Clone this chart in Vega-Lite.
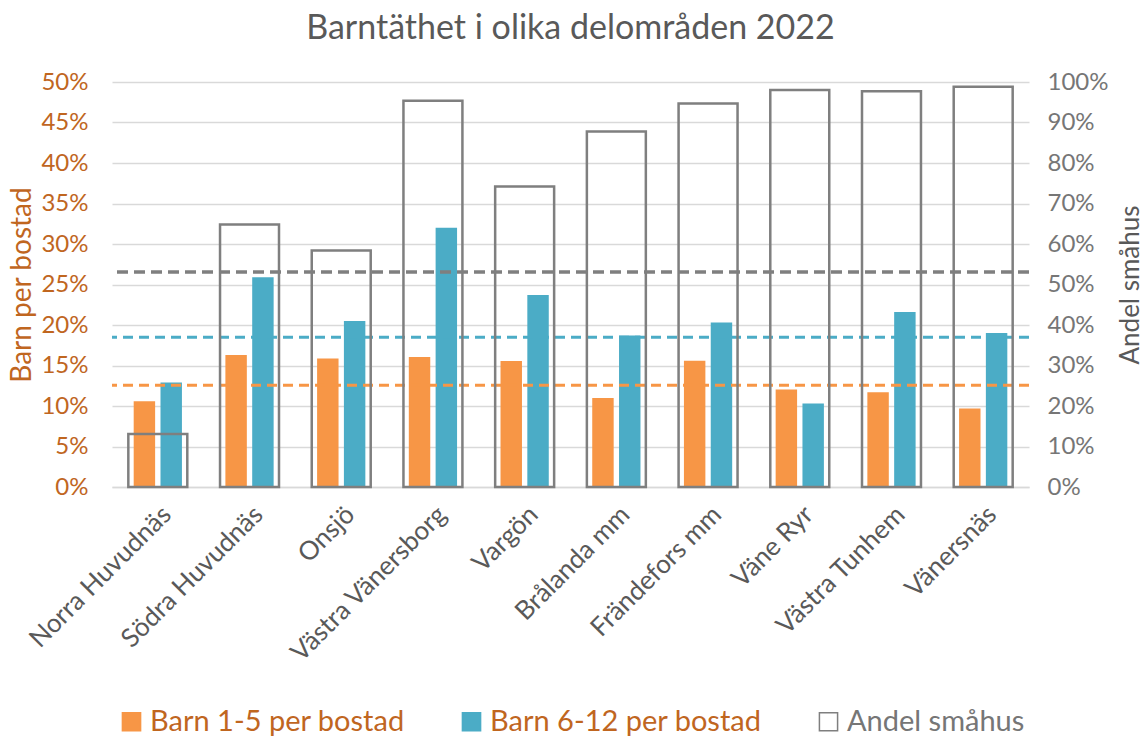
{
  "$schema": "https://vega.github.io/schema/vega-lite/v6.json",
  "width": 917,
  "height": 405,
  "autosize": {"type": "none"},
  "padding": {"left": 112, "top": 82, "right": 116, "bottom": 252},
  "background": "white",
  "title": {
    "text": "Barntäthet i olika delområden 2022",
    "font": "Lato",
    "fontSize": 34,
    "fontWeight": "normal",
    "color": "#595959",
    "anchor": "middle",
    "offset": 24
  },
  "datasets": {
    "barn": [
      {"omrade": "Norra Huvudnäs", "serie": "Barn 1-5 per bostad", "varde": 0.106},
      {"omrade": "Norra Huvudnäs", "serie": "Barn 6-12 per bostad", "varde": 0.129},
      {"omrade": "Norra Huvudnäs", "serie": "Andel småhus", "varde": 0.131},
      {"omrade": "Södra Huvudnäs", "serie": "Barn 1-5 per bostad", "varde": 0.163},
      {"omrade": "Södra Huvudnäs", "serie": "Barn 6-12 per bostad", "varde": 0.259},
      {"omrade": "Södra Huvudnäs", "serie": "Andel småhus", "varde": 0.648},
      {"omrade": "Onsjö", "serie": "Barn 1-5 per bostad", "varde": 0.1585},
      {"omrade": "Onsjö", "serie": "Barn 6-12 per bostad", "varde": 0.205},
      {"omrade": "Onsjö", "serie": "Andel småhus", "varde": 0.584},
      {"omrade": "Västra Vänersborg", "serie": "Barn 1-5 per bostad", "varde": 0.1605},
      {"omrade": "Västra Vänersborg", "serie": "Barn 6-12 per bostad", "varde": 0.320},
      {"omrade": "Västra Vänersborg", "serie": "Andel småhus", "varde": 0.954},
      {"omrade": "Vargön", "serie": "Barn 1-5 per bostad", "varde": 0.1555},
      {"omrade": "Vargön", "serie": "Barn 6-12 per bostad", "varde": 0.237},
      {"omrade": "Vargön", "serie": "Andel småhus", "varde": 0.742},
      {"omrade": "Brålanda mm", "serie": "Barn 1-5 per bostad", "varde": 0.110},
      {"omrade": "Brålanda mm", "serie": "Barn 6-12 per bostad", "varde": 0.187},
      {"omrade": "Brålanda mm", "serie": "Andel småhus", "varde": 0.878},
      {"omrade": "Frändefors mm", "serie": "Barn 1-5 per bostad", "varde": 0.156},
      {"omrade": "Frändefors mm", "serie": "Barn 6-12 per bostad", "varde": 0.203},
      {"omrade": "Frändefors mm", "serie": "Andel småhus", "varde": 0.947},
      {"omrade": "Väne Ryr", "serie": "Barn 1-5 per bostad", "varde": 0.1205},
      {"omrade": "Väne Ryr", "serie": "Barn 6-12 per bostad", "varde": 0.103},
      {"omrade": "Väne Ryr", "serie": "Andel småhus", "varde": 0.980},
      {"omrade": "Västra Tunhem", "serie": "Barn 1-5 per bostad", "varde": 0.117},
      {"omrade": "Västra Tunhem", "serie": "Barn 6-12 per bostad", "varde": 0.216},
      {"omrade": "Västra Tunhem", "serie": "Andel småhus", "varde": 0.977},
      {"omrade": "Vänersnäs", "serie": "Barn 1-5 per bostad", "varde": 0.097},
      {"omrade": "Vänersnäs", "serie": "Barn 6-12 per bostad", "varde": 0.190},
      {"omrade": "Vänersnäs", "serie": "Andel småhus", "varde": 0.988}
    ],
    "snitt": [
      {"serie": "Barn 1-5 per bostad", "snitt": 0.1255},
      {"serie": "Barn 6-12 per bostad", "snitt": 0.185},
      {"serie": "Andel småhus", "snitt": 0.531}
    ]
  },
  "config": {
    "view": {"stroke": null},
    "legend": {
      "orient": "bottom",
      "direction": "horizontal",
      "title": null,
      "labelFont": "Lato",
      "labelFontSize": 29,
      "labelLimit": 500,
      "symbolType": "square",
      "symbolSize": 330,
      "symbolStrokeWidth": 1.5,
      "columnPadding": 52,
      "offset": 40,
      "layout": {"bottom": {"anchor": "middle"}}
    }
  },
  "layer": [
    {
      "layer": [
        {
          "data": {"name": "barn"},
          "transform": [{"filter": "datum.serie != 'Andel småhus'"}],
          "mark": {"type": "bar", "strokeWidth": 0},
          "encoding": {
            "x": {
              "field": "omrade",
              "type": "nominal",
              "sort": ["Norra Huvudnäs", "Södra Huvudnäs", "Onsjö", "Västra Vänersborg", "Vargön", "Brålanda mm", "Frändefors mm", "Väne Ryr", "Västra Tunhem", "Vänersnäs"],
              "scale": {"paddingInner": 0.357, "paddingOuter": 0.178},
              "axis": {
                "title": null,
                "labelAngle": -45,
                "labelAlign": "right",
                "labelBaseline": "top",
                "labelFont": "Lato",
                "labelFontSize": 26,
                "labelColor": "#595959",
                "labelPadding": 14,
                "labelLimit": 400,
                "ticks": false,
                "domainColor": "#D9D9D9",
                "domainWidth": 1.5
              }
            },
            "xOffset": {
              "field": "serie",
              "type": "nominal",
              "sort": ["Barn 1-5 per bostad", "Barn 6-12 per bostad"],
              "scale": {"paddingInner": 0.2, "paddingOuter": 0.2}
            },
            "y": {
              "field": "varde",
              "type": "quantitative",
              "scale": {"domain": [0, 0.5]},
              "axis": {
                "format": "%",
                "values": [0, 0.05, 0.1, 0.15, 0.2, 0.25, 0.3, 0.35, 0.4, 0.45, 0.5],
                "title": "Barn per bostad",
                "titleFont": "Lato",
                "titleFontSize": 28,
                "titleFontWeight": "normal",
                "titleColor": "#C0661F",
                "titlePadding": 4,
                "labelFont": "Lato",
                "labelFontSize": 24,
                "labelColor": "#C0661F",
                "labelPadding": 24,
                "ticks": false,
                "domain": false,
                "grid": true,
                "gridColor": "#D9D9D9",
                "gridWidth": 1.5
              }
            },
            "fill": {
              "field": "serie",
              "type": "nominal",
              "scale": {
                "domain": ["Barn 1-5 per bostad", "Barn 6-12 per bostad", "Andel småhus"],
                "range": ["#F79646", "#4BACC6", "rgba(255,255,255,0)"]
              },
              "legend": {
                "title": null,
                "encode": {"labels": {"update": {"fill": {"signal": "datum.label === 'Andel småhus' ? '#767676' : '#C0661F'"}}}}
              }
            },
            "stroke": {
              "field": "serie",
              "type": "nominal",
              "scale": {
                "domain": ["Barn 1-5 per bostad", "Barn 6-12 per bostad", "Andel småhus"],
                "range": ["#F79646", "#4BACC6", "#7F7F7F"]
              },
              "legend": {
                "title": null,
                "encode": {"labels": {"update": {"fill": {"signal": "datum.label === 'Andel småhus' ? '#767676' : '#C0661F'"}}}}
              }
            }
          }
        },
        {
          "data": {"name": "snitt"},
          "transform": [{"filter": "datum.serie == 'Barn 1-5 per bostad'"}],
          "mark": {"type": "rule", "color": "#F79646", "strokeWidth": 3, "strokeDash": [10, 6]},
          "encoding": {"y": {"field": "snitt", "type": "quantitative"}}
        },
        {
          "data": {"name": "snitt"},
          "transform": [{"filter": "datum.serie == 'Barn 6-12 per bostad'"}],
          "mark": {"type": "rule", "color": "#4BACC6", "strokeWidth": 3, "strokeDash": [10, 6]},
          "encoding": {"y": {"field": "snitt", "type": "quantitative"}}
        }
      ]
    },
    {
      "layer": [
        {
          "data": {"name": "barn"},
          "transform": [{"filter": "datum.serie == 'Andel småhus'"}],
          "mark": {"type": "bar", "strokeWidth": 2.5},
          "encoding": {
            "x": {
              "field": "omrade",
              "type": "nominal",
              "sort": ["Norra Huvudnäs", "Södra Huvudnäs", "Onsjö", "Västra Vänersborg", "Vargön", "Brålanda mm", "Frändefors mm", "Väne Ryr", "Västra Tunhem", "Vänersnäs"]
            },
            "y": {
              "field": "varde",
              "type": "quantitative",
              "scale": {"domain": [0, 1]},
              "axis": {
                "orient": "right",
                "format": "%",
                "values": [0, 0.1, 0.2, 0.3, 0.4, 0.5, 0.6, 0.7, 0.8, 0.9, 1],
                "title": "Andel småhus",
                "titleAngle": 270,
                "titleBaseline": "top",
                "titleFont": "Lato",
                "titleFontSize": 26,
                "titleFontWeight": "normal",
                "titleColor": "#595959",
                "titlePadding": 10,
                "labelFont": "Lato",
                "labelFontSize": 24,
                "labelColor": "#767676",
                "labelPadding": 18,
                "ticks": false,
                "domain": false,
                "grid": false
              }
            },
            "fill": {"field": "serie", "type": "nominal"},
            "stroke": {"field": "serie", "type": "nominal"}
          }
        },
        {
          "data": {"name": "snitt"},
          "transform": [{"filter": "datum.serie == 'Andel småhus'"}],
          "mark": {"type": "rule", "color": "#7F7F7F", "strokeWidth": 3.5, "strokeDash": [11, 6]},
          "encoding": {"y": {"field": "snitt", "type": "quantitative"}}
        }
      ]
    }
  ],
  "resolve": {"scale": {"y": "independent"}}
}
